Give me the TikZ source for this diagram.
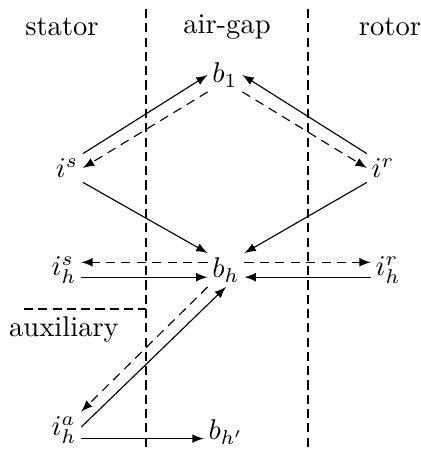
\documentclass[tikz,border=0pt]{standalone}
\usetikzlibrary{arrows}
\begin{document}
\begin{tikzpicture}[x=0.35pt,y=-0.35pt,>=latex,inner sep=1.5pt,
                    border/.style={dash pattern=on 3.2pt off 1.8pt},
                    feed/.style={->,dash pattern=on 3.2pt off 2.2pt}]
                \useasboundingbox (0,0) rectangle (421,449);
                % region labels
                \node (stator) at (62,27) {stator};
                \node (airgap) at (227,27) {air-gap};
                \node (rotor)  at (390,27) {rotor};
                \node (aux)    at (64,330) {auxiliary};

                % borders between the regions
                \coordinate (sa) at (146,9);   \coordinate (sb) at (146,449);
                \coordinate (ra) at (308,9);   \coordinate (rb) at (308,449);
                \coordinate (xa) at (24,309);
                \draw[border] (sa) -- (sb)
                              (ra) -- (rb)
                              (xa) -- (xa -| sa);

                % the quantities
                \node (b1)  at (225,75)  {$b_1$};
                \node (is)  at (67,168)  {$i^s$};
                \node (ir)  at (383,168) {$i^r$};
                \node (bh)  at (226,270) {$b_h$};
                \node (ihs) at (64,270)  {$i_h^s$};
                \node (ihr) at (388,270) {$i_h^r$};
                \node (iha) at (64,430)  {$i_h^a$};
                \node (bhp) at (226,432) {$b_{h'}$};

                % top diamond
                \draw[->] (is.north east) -- (b1.west);
                \draw[feed] (b1.south west) -- (is.east);
                \draw[->] (ir.north west) -- (b1.east);
                \draw[feed] (b1.south east) -- (ir.west);
                \draw[->] (is.south east) -- (bh.north west);
                \draw[->] (ir.south west) -- (bh.north east);

                % harmonic links
                \draw[feed] ([yshift=2.7pt]bh.west) -- ([yshift=2.7pt]bh.west -| ihs.east);
                \draw[->] ([yshift=-2.5pt]ihs.east) -- ([yshift=-2.5pt]ihs.east -| bh.west);
                \draw[feed] ([yshift=2.7pt]bh.east) -- ([yshift=2.7pt]bh.east -| ihr.west);
                \draw[->] ([yshift=-2.5pt]ihr.west) -- ([yshift=-2.5pt]ihr.west -| bh.east);
                \draw[feed] (bh.south west) -- (iha.north east);
                \draw[->] ([yshift=1pt]iha.east) -- (bh.south);
                \draw[->] ([yshift=-3pt]iha.east) -- ([yshift=-3pt]iha.east -| bhp.west);
              \end{tikzpicture}
\end{document}
